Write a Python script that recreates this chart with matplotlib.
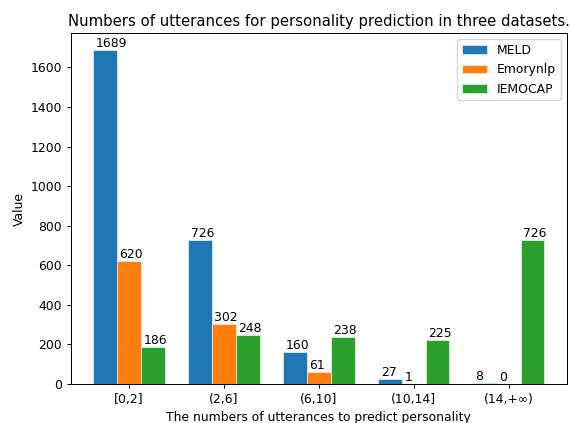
import matplotlib
matplotlib.use("Agg")
import matplotlib.pyplot as plt
import numpy as np

categories = ["[0,2]", "(2,6]", "(6,10]", "(10,14]", "(14,+∞)"]
meld = [1689, 726, 160, 27, 8]
emorynlp = [620, 302, 61, 1, 0]
iemocap = [186, 248, 238, 225, 726]
series_names = ["MELD", "Emorynlp", "IEMOCAP"]

s = 0.892
plt.rcParams.update({
    "font.size": 10 * s,
    "axes.titlesize": 12 * s,
    "axes.linewidth": 0.8 * s,
    "xtick.major.size": 3.5 * s,
    "ytick.major.size": 3.5 * s,
    "xtick.major.width": 0.8 * s,
    "ytick.major.width": 0.8 * s,
    "xtick.major.pad": 3.5 * s,
    "ytick.major.pad": 3.5 * s,
    "axes.titlepad": 6 * s,
    "axes.labelpad": 4 * s,
    "legend.fontsize": 10 * s,
})

fig = plt.figure(figsize=(5.71, 4.23), dpi=100)
ax = fig.add_axes([0.124, 0.092, 0.869, 0.830])

x = np.arange(len(categories))
w = 0.25
for i, (name, vals) in enumerate(zip(series_names, [meld, emorynlp, iemocap])):
    pos = x + (i - 1) * w
    ax.bar(pos, vals, w, label=name, edgecolor="white", linewidth=0.4)
    for px, v in zip(pos, vals):
        ax.text(px - 0.1, v, str(v), ha="left", va="bottom")

ax.set_xticks(x)
ax.set_xticklabels(categories)
ax.set_ylabel("Value")
ax.set_xlabel("The numbers of utterances to predict personality")
ax.set_title("Numbers of utterances for personality prediction in three datasets.")
ax.legend(loc="upper right")

fig.savefig("out.png", dpi=100)
